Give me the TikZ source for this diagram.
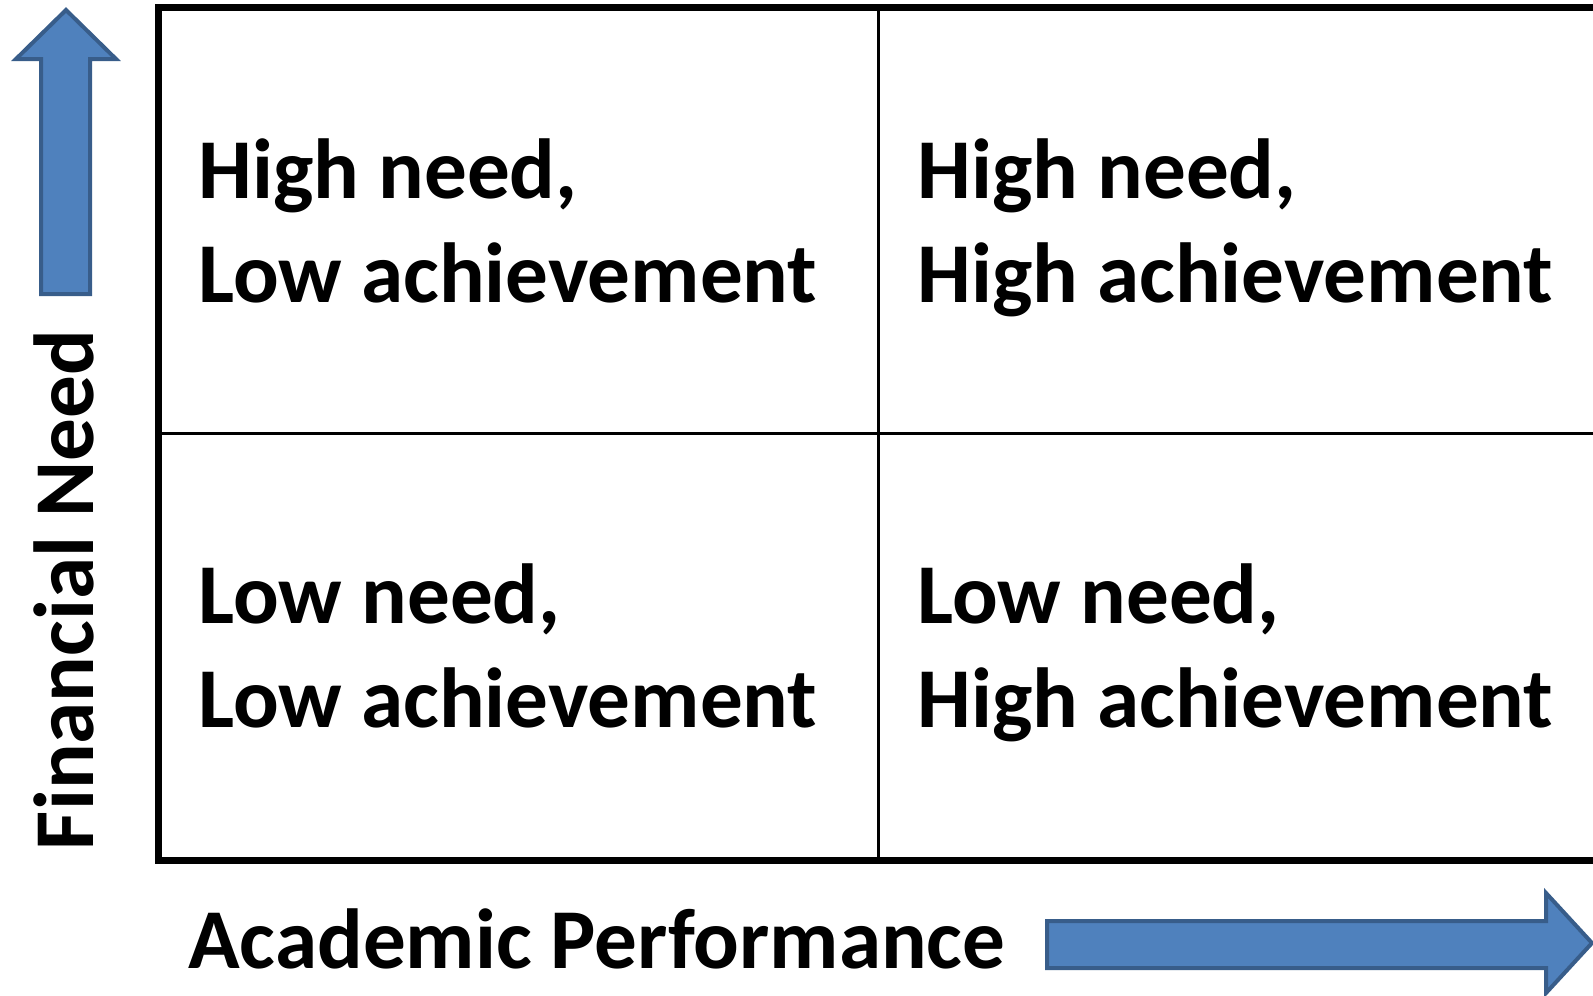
\documentclass[tikz,border=0pt]{standalone}
\usepackage{fontspec}
\setmainfont{Carlito}
\usetikzlibrary{positioning,calc}
\definecolor{arrowfill}{RGB}{79,129,189}
\definecolor{arrowline}{RGB}{56,93,138}
\tikzset{
  cell/.style={anchor=base west, align=left, inner sep=0pt,
    font=\fontsize{48.5}{59}\selectfont\bfseries},
  axislabel/.style={inner sep=0pt, font=\fontsize{48.5}{59}\selectfont\bfseries},
  bigarrow/.style={fill=arrowfill, draw=arrowline, line width=0.08cm, line join=miter}
}

\begin{document}
\begin{tikzpicture}[x=0.02cm, y=-0.02cm]
  \clip (0,0) rectangle (1593,995);

  % outer frame, left open on the right
  \draw[line width=0.14cm] (1600,7) -- (158.5,7) -- (158.5,860) -- (1600,860);
  % quadrant lines
  \draw[line width=0.06cm] (878.5,7) -- (878.5,860);
  \draw[line width=0.06cm] (158.5,433.5) -- (1600,433.5);

  % quadrants (base = last line)
  \node[cell] (hl) at (198,302) {High need,\\Low achievement};
  \node[cell] (hh) at (917,302) {High need,\\High achievement};
  \node[cell] (ll) at (198,727) {Low need,\\Low achievement};
  \node[cell] (lh) at (917,727) {Low need,\\High achievement};

  % axes
  \node[axislabel, anchor=base, rotate=90] (need) at (93,590) {Financial Need};
  \node[axislabel, anchor=base west] (perf) at (188,968) {Academic Performance};

  \draw[bigarrow] (66,10) -- (116,59) -- (90,59) -- (90,294) -- (41,294)
    -- (41,59) -- (16,59) -- cycle;
  \draw[bigarrow] (1047,921) -- (1546,921) -- (1546,893) -- (1592,943)
    -- (1546,993) -- (1546,968) -- (1047,968) -- cycle;
\end{tikzpicture}
\end{document}
